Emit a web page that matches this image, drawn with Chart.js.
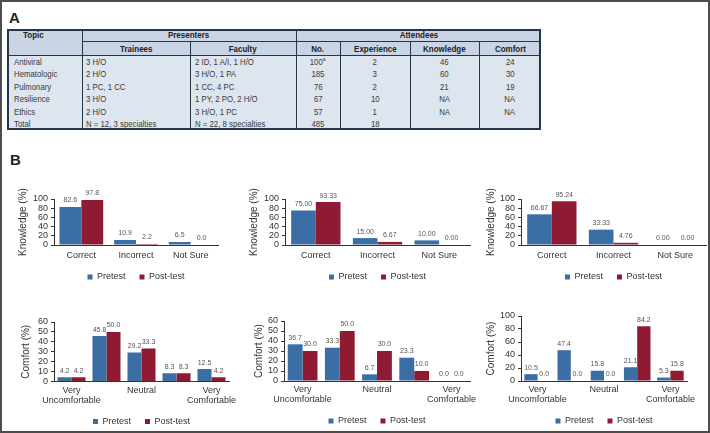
<!DOCTYPE html>
<html>
<head>
<meta charset="utf-8">
<script src="https://cdn.jsdelivr.net/npm/chart.js@4.4.1/dist/chart.umd.min.js"></script>
<style>
  html, body { margin: 0; padding: 0; background: #fff; overflow: hidden; }
  #page { position: relative; width: 710px; height: 433px; overflow: hidden; font-family: 'Liberation Sans', Arial, sans-serif; }
  #frame { position: absolute; left: 0; top: 0; width: 710px; height: 433px; box-sizing: border-box; border: 2px solid #4d4d4d; pointer-events: none; z-index: 10; }
  .panel-label { position: absolute; font-weight: bold; font-size: 15px; line-height: 15px; color: #222; }
  #tbl { position: absolute; left: 7px; top: 29px; width: 534px; height: 101px; background: #dde5ef; font-family: 'Liberation Sans', Arial, sans-serif; font-size: 9.5px; color: #3a3a3a; }
  #tbl div { position: absolute; white-space: nowrap; }
  #tbl span { display: inline-block; }
  canvas { position: absolute; }
</style>
</head>
<body>
<div id="page">
  <div class="panel-label" style="left:9px; top:10px;">A</div>
  <div id="tbl"></div>
  <div class="panel-label" style="left:10px; top:152px;">B</div>
  <div id="frame"></div>
</div>
<script>
// ---- panel A table ----
const tableTopics = ['Antiviral', 'Hematologic', 'Pulmonary', 'Resilience', 'Ethics', 'Total'];
const tableTrainees = ['3 H/O', '2 H/O', '1 PC, 1 CC', '3 H/O', '2 H/O', 'N = 12, 3 specialties'];
const tableFaculty = ['2 ID, 1 A/I, 1 H/O', '3 H/O, 1 PA', '1 CC, 4 PC', '1 PY, 2 PO, 2 H/O', '3 H/O, 1 PC', 'N = 22, 8 specialties'];
const tableAttendees = ['100', '185', '76', '67', '57', '485'];
const tableFootnotes = ['a', '', '', '', '', ''];
const tableExperience = ['2', '3', '2', '10', '1', '18'];
const tableKnowledge = ['46', '60', '21', 'NA', 'NA', ''];
const tableComfort = ['24', '30', '19', 'NA', 'NA', ''];

// ---- panel B charts ----
const seriesNames = ['Pretest', 'Post-test'];
const knowledgeCategories = ['Correct', 'Incorrect', 'Not Sure'];
const comfortCategories = [['Very', 'Uncomfortable'], '', 'Neutral', '', ['Very', 'Comfortable']];

const antiviralKnowledgePre = [82.6, 10.9, 6.5];
const antiviralKnowledgePost = [97.8, 2.2, 0.0];
const hematologicKnowledgePre = [75.00, 15.00, 10.00];
const hematologicKnowledgePost = [93.33, 6.67, 0.00];
const pulmonaryKnowledgePre = [66.67, 33.33, 0.00];
const pulmonaryKnowledgePost = [95.24, 4.76, 0.00];

const antiviralComfortPre = [4.2, 45.8, 29.2, 8.3, 12.5];
const antiviralComfortPost = [4.2, 50.0, 33.3, 8.3, 4.2];
const hematologicComfortPre = [36.7, 33.3, 6.7, 23.3, 0.0];
const hematologicComfortPost = [30.0, 50.0, 30.0, 10.0, 0.0];
const pulmonaryComfortPre = [10.5, 47.4, 15.8, 21.1, 5.3];
const pulmonaryComfortPost = [0.0, 0.0, 0.0, 84.2, 15.8];

const preColor = '#3a6ea5';
const postColor = '#8e1b32';
const inkColor = '#333';
const fontFamily = "'Liberation Sans', Arial, sans-serif";

// ---------- table ----------
const tbl = document.getElementById('tbl');

function addBox(x, y, w, h, style) {
    const d = document.createElement('div');
    d.style.left = x + 'px';
    d.style.top = y + 'px';
    d.style.width = w + 'px';
    d.style.height = h + 'px';
    Object.assign(d.style, style || {});
    tbl.appendChild(d);
    return d;
}

// narrow look: the original uses a condensed face, so squeeze the text horizontally
function addText(x0, x1, y0, h, html, align, bold, pad) {
    const d = addBox(x0, y0, x1 - x0, h, {
        lineHeight: h + 'px',
        textAlign: align,
        fontWeight: bold ? 'bold' : 'normal',
        color: bold ? '#222' : '#3a3a3a',
        paddingLeft: (pad || 0) + 'px',
        boxSizing: 'border-box'
    });
    const s = document.createElement('span');
    s.innerHTML = html;
    s.style.transform = 'scaleX(' + (bold ? 0.84 : 0.82) + ')';
    s.style.transformOrigin = align === 'left' ? 'left center' : 'center center';
    d.appendChild(s);
}

function buildTable() {
    const cols = [0, 75, 183, 289, 333, 403, 472, 534];
    const lineColor = '#26364a';
    const headTop = 12, bodyTop = 26, rowH = 12.4;

    // header band
    addBox(0, 0, 534, bodyTop, { background: '#c9d5e4' });

    // lines
    addBox(cols[1], 0, 1, 101, { background: lineColor });
    addBox(cols[3], 0, 1, 101, { background: lineColor });
    [2, 4, 5, 6].forEach(i => addBox(cols[i], headTop, 1, 101 - headTop, { background: lineColor }));
    addBox(cols[1], headTop, 534 - cols[1], 1, { background: lineColor });
    addBox(0, bodyTop, 534, 1, { background: lineColor });
    addBox(0, 0, 534, 101, { border: '2px solid ' + lineColor, boxSizing: 'border-box' });

    // header text
    addText(0, cols[1], 0, headTop, 'Topic', 'left', true, 16);
    addText(cols[1], cols[3], 0, headTop, 'Presenters', 'center', true);
    addText(cols[3], cols[7], 0, headTop, 'Attendees', 'center', true);
    const subHeads = ['Trainees', 'Faculty', 'No.', 'Experience', 'Knowledge', 'Comfort'];
    subHeads.forEach((t, i) => addText(cols[i + 1], cols[i + 2], headTop + 1, bodyTop - headTop - 1, t, 'center', true));

    // body rows
    tableTopics.forEach((topic, r) => {
        const y = bodyTop + 1 + r * rowH;
        addText(cols[0], cols[1], y, rowH, topic, 'left', false, 7);
        addText(cols[1], cols[2], y, rowH, tableTrainees[r], 'left', false, 4);
        addText(cols[2], cols[3], y, rowH, tableFaculty[r], 'left', false, 5);
        const note = tableFootnotes[r] ? '<sup style="font-size:6px;line-height:0">' + tableFootnotes[r] + '</sup>' : '';
        addText(cols[3], cols[4], y, rowH, tableAttendees[r] + note, 'center', false);
        addText(cols[4], cols[5], y, rowH, tableExperience[r], 'center', false);
        addText(cols[5], cols[6], y, rowH, tableKnowledge[r], 'center', false);
        addText(cols[6], cols[7], y, rowH, tableComfort[r], 'center', false);
    });
}

// ---------- charts ----------
const valueLabels = {
    id: 'valueLabels',
    afterDatasetsDraw(chart, args, opts) {
        const ctx = chart.ctx;
        ctx.save();
        ctx.font = '7px ' + fontFamily;
        ctx.fillStyle = '#555';
        ctx.textAlign = 'center';
        ctx.textBaseline = 'middle';
        chart.data.datasets.forEach((ds, i) => {
            chart.getDatasetMeta(i).data.forEach((bar, j) => {
                ctx.fillText(ds.data[j].toFixed(opts.decimals), bar.x, bar.y - 6.5);
            });
        });
        ctx.restore();
    }
};

function makeBarChart(box, categories, pre, post, axis) {
    const legendH = 33;
    const padRight = 30;
    const canvasLeft = Math.round(box.titleX - 6);
    const canvasTop = box.top - 14;
    const width = box.right + padRight - canvasLeft;
    const rawH = box.bottom + box.xHeight + legendH - canvasTop;
    const height = Math.ceil(rawH);

    const canvas = document.createElement('canvas');
    canvas.width = width;
    canvas.height = height;
    canvas.style.left = canvasLeft + 'px';
    canvas.style.top = canvasTop + 'px';
    document.getElementById('page').insertBefore(canvas, document.getElementById('frame'));

    return new Chart(canvas.getContext('2d'), {
        type: 'bar',
        data: {
            labels: categories,
            datasets: [
                { label: seriesNames[0], data: pre, backgroundColor: preColor, borderWidth: 0 },
                { label: seriesNames[1], data: post, backgroundColor: postColor, borderWidth: 0 }
            ]
        },
        options: {
            responsive: false,
            animation: false,
            layout: { padding: { top: 14, right: padRight, left: 0, bottom: height - rawH } },
            datasets: { bar: { categoryPercentage: 0.8, barPercentage: 1.0 } },
            plugins: {
                legend: {
                    position: 'bottom',
                    fullSize: false,
                    labels: { boxWidth: 5, boxHeight: 5, padding: 14, color: inkColor, font: { size: 9, family: fontFamily } }
                },
                tooltip: { enabled: false },
                valueLabels: { decimals: axis.decimals }
            },
            scales: {
                x: {
                    grid: { display: false, drawTicks: false },
                    border: { color: inkColor, width: 1 },
                    ticks: {
                        color: inkColor,
                        font: { size: 9, family: fontFamily, lineHeight: box.lineHeight },
                        padding: box.tickPad,
                        autoSkip: false,
                        maxRotation: 0,
                        minRotation: 0
                    },
                    afterFit(s) { s.height = box.xHeight; s.paddingLeft = 0; s.paddingRight = 0; }
                },
                y: {
                    min: 0,
                    max: axis.max,
                    ticks: { stepSize: axis.step, autoSkip: false, color: inkColor, font: { size: 9, family: fontFamily }, padding: 3 },
                    grid: { drawOnChartArea: false, drawTicks: true, tickLength: 3, color: inkColor },
                    border: { color: inkColor, width: 1 },
                    title: { display: true, text: axis.title, color: inkColor, font: { size: 10, family: fontFamily }, padding: 0 },
                    afterFit(s) { s.width = box.left - canvasLeft; s.paddingTop = 0; s.paddingBottom = 0; }
                }
            }
        },
        plugins: [valueLabels]
    });
}

function init() {
    buildTable();

    const topRow = { top: 199, bottom: 245, xHeight: 13.5, tickPad: 5.5, lineHeight: 1.2 };
    const bottomRow = { bottom: 381, xHeight: 21.5, tickPad: 4, lineHeight: 1.11 };
    const knowledgeAxis = d => ({ title: 'Knowledge (%)', max: 100, step: 20, decimals: d });

    makeBarChart(Object.assign({ titleX: 23, left: 54, right: 218 }, topRow),
        knowledgeCategories, antiviralKnowledgePre, antiviralKnowledgePost, knowledgeAxis(1));
    makeBarChart(Object.assign({ titleX: 254, left: 285, right: 470 }, topRow),
        knowledgeCategories, hematologicKnowledgePre, hematologicKnowledgePost, knowledgeAxis(2));
    makeBarChart(Object.assign({ titleX: 491, left: 521, right: 706 }, topRow),
        knowledgeCategories, pulmonaryKnowledgePre, pulmonaryKnowledgePost, knowledgeAxis(2));

    makeBarChart(Object.assign({ titleX: 26, left: 54, right: 229, top: 321.5 }, bottomRow),
        comfortCategories, antiviralComfortPre, antiviralComfortPost, { title: 'Comfort (%)', max: 60, step: 10, decimals: 1 });
    makeBarChart(Object.assign({ titleX: 259, left: 284, right: 470, top: 321 }, bottomRow),
        comfortCategories, hematologicComfortPre, hematologicComfortPost, { title: 'Comfort (%)', max: 60, step: 10, decimals: 1 });
    makeBarChart(Object.assign({ titleX: 491, left: 521, right: 687, top: 316 }, bottomRow),
        comfortCategories, pulmonaryComfortPre, pulmonaryComfortPost, { title: 'Comfort (%)', max: 100, step: 20, decimals: 1 });
}

window.addEventListener('DOMContentLoaded', init);
</script>
</body>
</html>
